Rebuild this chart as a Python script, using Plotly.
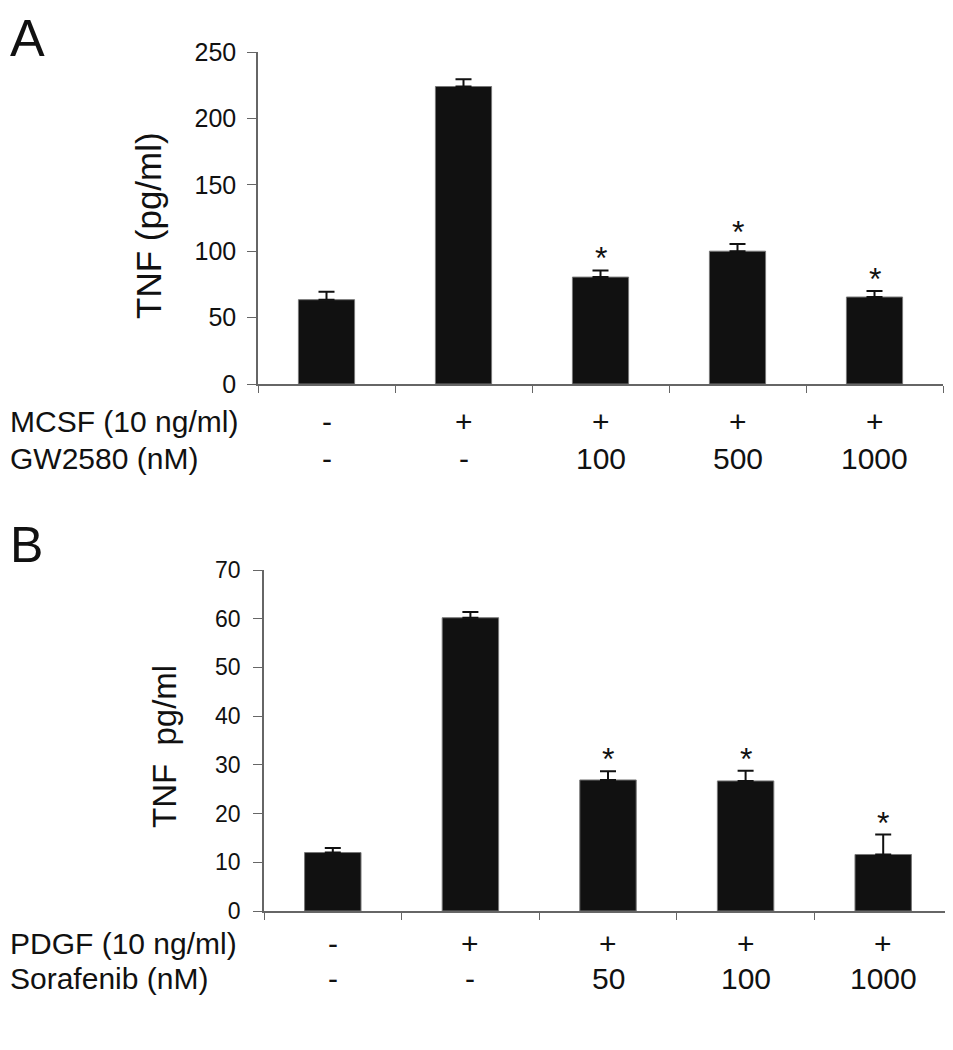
import plotly.graph_objects as go

FONT = "Liberation Sans, Arial, Helvetica, sans-serif"

# Panel A data
a_mcsf = ["-", "+", "+", "+", "+"]
a_gw = ["-", "-", "100", "500", "1000"]
a_values = [63.5, 224, 80.5, 100, 65.5]
a_err = [6, 5.5, 5, 5.5, 4.5]
a_sig = [False, False, True, True, True]

# Panel B data
b_pdgf = ["-", "+", "+", "+", "+"]
b_sora = ["-", "-", "50", "100", "1000"]
b_values = [12.0, 60.2, 26.9, 26.7, 11.6]
b_err = [0.95, 1.2, 1.8, 2.1, 4.1]
b_sig = [False, False, True, True, True]

xpos = list(range(5))

# page body has an 8px margin; figure sized to fit the window
OFF = 8
W, H = 953 - OFF, 1050 - OFF


def px(x):
    return (x - OFF) / W


def py(y):
    return 1 - (y - OFF) / H


fig = go.Figure()

bar_style = dict(marker=dict(color="#111111", line=dict(color="#777777", width=1)),
                 width=0.41, showlegend=False, hoverinfo="skip")
err_style = dict(type="data", symmetric=False, color="#111111", thickness=2, width=8)

fig.add_trace(go.Bar(x=xpos, y=a_values, xaxis="x", yaxis="y",
                     error_y=dict(array=a_err, arrayminus=[0] * 5, **err_style), **bar_style))
fig.add_trace(go.Bar(x=xpos, y=b_values, xaxis="x2", yaxis="y2",
                     error_y=dict(array=b_err, arrayminus=[0] * 5, **err_style), **bar_style))

axis_common = dict(showline=True, linecolor="#666666", linewidth=1.5, ticks="outside",
                   tickcolor="#666666", showgrid=False, zeroline=False, automargin=False)

fig.update_layout(
    width=W, height=H,
    margin=dict(l=0, r=0, t=0, b=0, autoexpand=False),
    paper_bgcolor="white", plot_bgcolor="white",
    font=dict(family=FONT, color="#111111"),
    xaxis=dict(domain=[px(258), px(943)], anchor="y", range=[-0.5, 4.5],
               tickvals=[-0.5, 0.5, 1.5, 2.5, 3.5, 4.5], showticklabels=False, ticklen=7,
               **axis_common),
    yaxis=dict(domain=[py(384), py(52)], anchor="x", range=[0, 250],
               tickvals=[0, 50, 100, 150, 200, 250], ticklen=9, ticklabelstandoff=6,
               tickfont=dict(size=25, family=FONT, color="#111111"), **axis_common),
    xaxis2=dict(domain=[px(264), px(952)], anchor="y2", range=[-0.5, 4.5],
                tickvals=[-0.5, 0.5, 1.5, 2.5, 3.5, 4.5], showticklabels=False, ticklen=7,
                **axis_common),
    yaxis2=dict(domain=[py(911), py(570)], anchor="x2", range=[0, 70],
                tickvals=[0, 10, 20, 30, 40, 50, 60, 70], ticklen=9, ticklabelstandoff=8,
                tickfont=dict(size=23, family=FONT, color="#111111"), **axis_common),
)

ann = []
# Panel letters
ann.append(dict(text="A", x=px(8), y=py(38), xref="paper", yref="paper", xanchor="left",
                yanchor="middle", showarrow=False, font=dict(size=52, family=FONT, color="#111")))
ann.append(dict(text="B", x=px(8), y=py(545), xref="paper", yref="paper", xanchor="left",
                yanchor="middle", showarrow=False, font=dict(size=50, family=FONT, color="#111")))
# Y titles
ann.append(dict(text="TNF (pg/ml)", x=px(148), y=py(226), xref="paper", yref="paper",
                textangle=-90, showarrow=False, xanchor="center", yanchor="middle",
                font=dict(size=35, family=FONT, color="#111")))
ann.append(dict(text="TNF  pg/ml", x=px(164), y=py(747), xref="paper", yref="paper",
                textangle=-90, showarrow=False, xanchor="center", yanchor="middle",
                font=dict(size=33, family=FONT, color="#111")))

row_font = dict(size=30, family=FONT, color="#111")


def rows(xref, labels_rows, names, ys):
    for name, labels, y in zip(names, labels_rows, ys):
        ann.append(dict(text=name, x=px(8), y=y, xref="paper", yref="paper", xanchor="left",
                        yanchor="middle", showarrow=False, font=row_font))
        for i, lab in enumerate(labels):
            ann.append(dict(text=lab, x=i, y=y, xref=xref, yref="paper", xanchor="center",
                            yanchor="middle", showarrow=False, font=row_font))


rows("x", [a_mcsf, a_gw], ["MCSF (10 ng/ml)", "GW2580 (nM)"], [py(422), py(458)])
rows("x2", [b_pdgf, b_sora], ["PDGF (10 ng/ml)", "Sorafenib (nM)"], [py(943), py(978)])

# significance stars
for xr, yr, vals, errs, sig in [("x", "y", a_values, a_err, a_sig), ("x2", "y2", b_values, b_err, b_sig)]:
    for i, (v, e, s) in enumerate(zip(vals, errs, sig)):
        if s:
            ann.append(dict(text="*", x=i, y=v + e, xref=xr, yref=yr, xanchor="center",
                            yanchor="bottom", yshift=-8, showarrow=False,
                            font=dict(size=32, family=FONT, color="#111")))

fig.update_layout(annotations=ann)
fig.write_html("out.html")
